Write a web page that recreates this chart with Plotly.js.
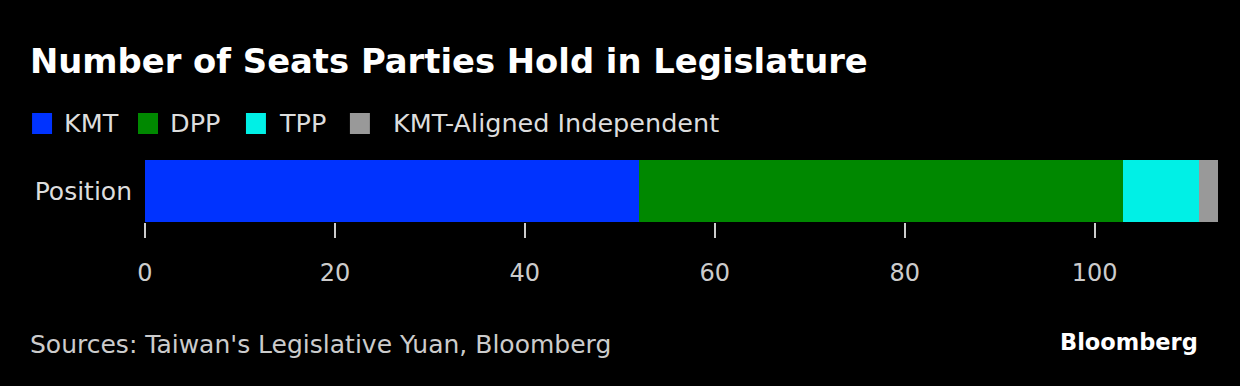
<!DOCTYPE html>
<html>
<head>
<meta charset="utf-8">
<script src="https://cdn.plot.ly/plotly-3.0.1.min.js"></script>
<style>
html,body{margin:0;padding:0;background:#000;}
#chart{width:1240px;height:386px;}
</style>
</head>
<body>
<div id="chart"></div>
<script>
// Data
const categories = ["Position"];
const seriesNames = ["KMT", "DPP", "TPP", "KMT-Aligned Independent"];
const seriesValues = [[52], [51], [8], [2]];
const seriesColors = ["#0033ff", "#008800", "#00f0e6", "#999999"];
const tickValues = [0, 20, 40, 60, 80, 100];
const tickLabels = ["0", "20", "40", "60", "80", "100"];

const FONT = "DejaVu Sans, sans-serif";

const traces = seriesNames.map((n, i) => ({
  type: "bar",
  orientation: "h",
  name: n,
  y: categories,
  x: seriesValues[i],
  marker: {color: seriesColors[i], line: {width: 0}},
  hoverinfo: "x+name",
  showlegend: false
}));

const total = seriesValues.reduce((s, v) => s + v[0], 0);

// pixel helpers (plot area: x 145..1218.5, y 160..222)
const PL = 145, PW = 1073.5, PT = 160, PH = 62;
const px = x => (x - PL) / PW;
const py = y => (PT + PH - y) / PH;

// custom legend (squares + labels)
const legendX = [32, 138, 246, 350];
const legendTextX = [62, 168, 277, 391];
const shapes = [];
const annotations = [];
seriesNames.forEach((n, i) => {
  shapes.push({type: "rect", xref: "paper", yref: "paper",
    x0: px(legendX[i]), x1: px(legendX[i] + 20),
    y0: py(134), y1: py(113),
    fillcolor: seriesColors[i], line: {width: 0}});
  annotations.push({xref: "paper", yref: "paper", x: px(legendTextX[i]), y: py(123),
    xanchor: "left", yanchor: "middle", text: n, showarrow: false,
    font: {family: FONT, size: 25.5, color: "#dddddd"}});
});
annotations.push({xref: "paper", yref: "paper", x: px(28), y: py(344),
  xanchor: "left", yanchor: "middle", text: "Sources: Taiwan's Legislative Yuan, Bloomberg", showarrow: false,
  font: {family: FONT, size: 25, color: "#cccccc"}});
annotations.push({xref: "paper", yref: "paper", x: px(1200), y: py(342),
  xanchor: "right", yanchor: "middle", text: "<b>Bloomberg</b>", showarrow: false,
  font: {family: "DejaVu Sans, sans-serif", size: 22.5, color: "#ffffff"}});

const layout = {
  width: 1240, height: 386,
  paper_bgcolor: "#000", plot_bgcolor: "#000",
  margin: {l: PL, r: 1240 - PL - PW, t: PT, b: 386 - PT - PH, pad: 0},
  barmode: "stack",
  bargap: 0,
  title: {text: "<b>Number of Seats Parties Hold in Legislature</b>", x: 30/1240, xanchor: "left", xref: "container",
    y: 1 - 61/386, yanchor: "middle", yref: "container",
    font: {family: "DejaVu Sans, sans-serif", size: 33.8, color: "#ffffff"}},
  xaxis: {range: [0, total], tickvals: tickValues, ticktext: tickLabels,
    showgrid: false, zeroline: false, showline: false,
    ticks: "outside", ticklen: 15, tickwidth: 2, tickcolor: "#cccccc",
    ticklabelstandoff: 14,
    tickfont: {family: FONT, size: 24, color: "#cccccc"}, fixedrange: true},
  yaxis: {range: [-0.5, 0.5], showgrid: false, zeroline: false, showline: false,
    ticks: "", ticklabelstandoff: 12,
    tickfont: {family: FONT, size: 25, color: "#dddddd"}, fixedrange: true},
  shapes: shapes,
  annotations: annotations,
  showlegend: false
};

Plotly.newPlot("chart", traces, layout, {displayModeBar: false, staticPlot: true});
</script>
</body>
</html>
